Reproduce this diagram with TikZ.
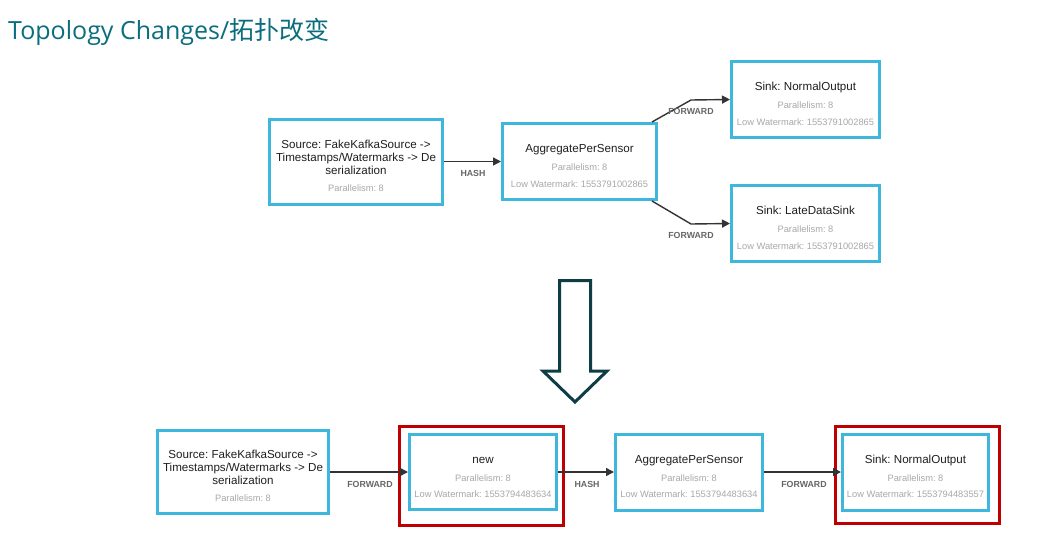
\documentclass[tikz,border=0pt]{standalone}
\usepackage{fontspec}
\setmainfont{Liberation Sans}
\newfontfamily\titlefont{Open Sans}
\newfontfamily\cjk{Noto Sans CJK SC}
\usetikzlibrary{arrows.meta}
\frenchspacing
\definecolor{boxblue}{HTML}{3FB7DC}
\definecolor{redframe}{HTML}{BE0000}
\definecolor{titleteal}{HTML}{0B6E7D}
\definecolor{bigarrow}{HTML}{0E3D45}
\definecolor{lightgray}{HTML}{A8A8A8}
\definecolor{labelgray}{HTML}{666666}
\definecolor{conncol}{HTML}{333333}
\tikzset{
  opbox/.style={draw=boxblue, line width=3pt, fill=white, inner sep=0pt},
  redbox/.style={draw=redframe, line width=3pt, inner sep=0pt},
  maintxt/.style={font=\frenchspacing\fontsize{11.6}{13}\selectfont, text=black!88, inner sep=0pt, text height=0.7em, text depth=0pt},
  smalltxt/.style={font=\frenchspacing\fontsize{9.3}{11}\selectfont, text=lightgray, inner sep=0pt, text height=0.7em, text depth=0pt},
  edgelabel/.style={font=\bfseries\fontsize{8.8}{10}\selectfont, text=labelgray, inner sep=0pt, text height=0.7em, text depth=0pt},
  conn/.style={draw=conncol, line width=1.4pt, -{Triangle[length=8pt,width=8pt]}},
}
\begin{document}
\begin{tikzpicture}[x=1pt,y=-1pt]
\useasboundingbox (0,0) rectangle (1056,535);
\fill[white] (0,0) rectangle (1056,535);

% title
\node[anchor=base west, inner sep=0pt, text=titleteal, font=\titlefont\fontsize{25}{29}\selectfont] (title) at (8,40) {Topology Changes/{\cjk 拓扑改变}};

% ---------- top graph ----------
\node[opbox, minimum width=173pt, minimum height=85pt] (src1) at (356,162) {};
\node[maintxt] (src1a) at (356,145) {Source: FakeKafkaSource ->};
\node[maintxt] (src1b) at (356,158) {Timestamps/Watermarks -> De};
\node[maintxt] (src1c) at (356,171) {serialization};
\node[smalltxt] (src1d) at (356,188) {Parallelism: 8};

\node[opbox, minimum width=154pt, minimum height=76pt] (agg1) at (579.5,161.5) {};
\node[maintxt] (agg1a) at (579.5,149) {AggregatePerSensor};
\node[smalltxt] (agg1b) at (579.5,167) {Parallelism: 8};
\node[smalltxt] (agg1c) at (579.5,184) {Low Watermark: 1553791002865};

\node[opbox, minimum width=148pt, minimum height=76pt] (sinka) at (805.5,99.5) {};
\node[maintxt] (sinkaa) at (805.5,87) {Sink: NormalOutput};
\node[smalltxt] (sinkab) at (805.5,105) {Parallelism: 8};
\node[smalltxt] (sinkac) at (805.5,122) {Low Watermark: 1553791002865};

\node[opbox, minimum width=148pt, minimum height=76pt] (sinkb) at (805.5,223.5) {};
\node[maintxt] (sinkba) at (805.5,211) {Sink: LateDataSink};
\node[smalltxt] (sinkbb) at (805.5,229) {Parallelism: 8};
\node[smalltxt] (sinkbc) at (805.5,246) {Low Watermark: 1553791002865};

\coordinate (bendup) at (691,100);
\coordinate (benddown) at (691,224);

\draw[conn] (src1.east |- 0,161.5) -- (agg1.west);
\draw[conn] ([xshift=-6pt]agg1.north east) -- (bendup) -- (sinka.west);
\draw[conn] ([xshift=-6pt]agg1.south east) -- (benddown) -- (sinkb.west);

\node[edgelabel] (l1) at (473,173) {HASH};
\node[edgelabel] (l2) at (691,111) {FORWARD};
\node[edgelabel] (l3) at (691,235) {FORWARD};

% ---------- big arrow ----------
\draw[draw=bigarrow, fill=white, line width=3pt, line join=miter]
  (559.5,280.5) -- (590.5,280.5) -- (590.5,371) -- (607,371) -- (575,402) -- (543,371) -- (559.5,371) -- cycle;

% ---------- bottom graph ----------
\node[opbox, minimum width=171pt, minimum height=83pt] (src2) at (243,472) {};
\node[maintxt] (src2a) at (243,455) {Source: FakeKafkaSource ->};
\node[maintxt] (src2b) at (243,468) {Timestamps/Watermarks -> De};
\node[maintxt] (src2c) at (243,481) {serialization};
\node[smalltxt] (src2d) at (243,498) {Parallelism: 8};

\node[redbox, minimum width=164pt, minimum height=99pt] (rednew) at (481.5,476) {};
\node[opbox, minimum width=147pt, minimum height=75pt] (new) at (483,472) {};
\node[maintxt] (newa) at (483,460) {new};
\node[smalltxt] (newb) at (483,478) {Parallelism: 8};
\node[smalltxt] (newc) at (483,494) {Low Watermark: 1553794483634};

\node[opbox, minimum width=147pt, minimum height=76pt] (agg2) at (689,472) {};
\node[maintxt] (agg2a) at (689,460) {AggregatePerSensor};
\node[smalltxt] (agg2b) at (689,478) {Parallelism: 8};
\node[smalltxt] (agg2c) at (689,494) {Low Watermark: 1553794483634};

\node[redbox, minimum width=164pt, minimum height=97pt] (redsink) at (917.5,475) {};
\node[opbox, minimum width=146pt, minimum height=76pt] (sink2) at (915.5,472) {};
\node[maintxt] (sink2a) at (915.5,460) {Sink: NormalOutput};
\node[smalltxt] (sink2b) at (915.5,478) {Parallelism: 8};
\node[smalltxt] (sink2c) at (915.5,494) {Low Watermark: 1553794483557};

\draw[conn] (src2.east) -- (new.west);
\draw[conn] (new.east) -- (agg2.west);
\draw[conn] (agg2.east) -- (sink2.west);

\node[edgelabel] (l4) at (370,484) {FORWARD};
\node[edgelabel] (l5) at (587,484) {HASH};
\node[edgelabel] (l6) at (804,484) {FORWARD};
\end{tikzpicture}
\end{document}
